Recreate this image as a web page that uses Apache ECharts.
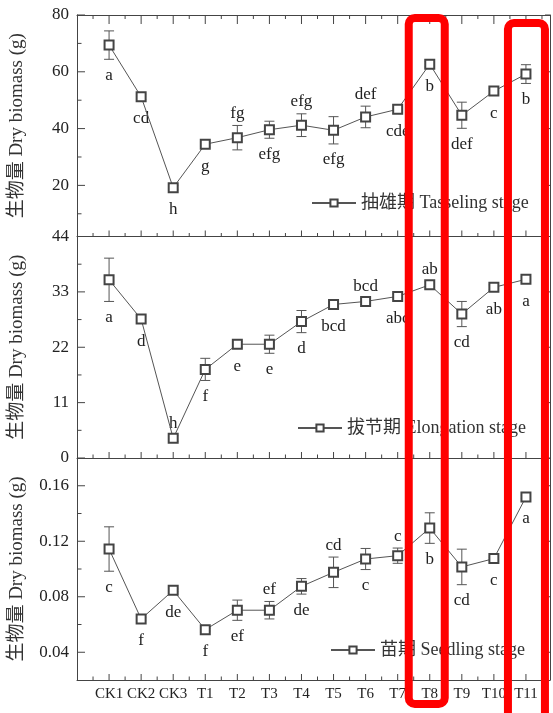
<!DOCTYPE html>
<html><head><meta charset="utf-8">
<script src="https://cdn.jsdelivr.net/npm/echarts@6/dist/echarts.min.js"></script>
<style>html,body{margin:0;padding:0;background:#fff}#c{width:553px;height:713px}</style>
</head><body><div id="c"></div>
<script>
// ---------- data ----------
const categories = ['CK1','CK2','CK3','T1','T2','T3','T4','T5','T6','T7','T8','T9','T10','T11'];

const tasselingMean = [69.4,51.2,19.2,34.5,36.8,39.6,41.2,39.4,44.1,46.8,62.7,44.7,53.2,59.2];
const tasselingErr  = [5.0,1.0,0.8,1.0,4.3,3.0,4.0,4.8,3.8,1.5,1.0,4.6,1.0,3.3];
const tasselingLetters = ['a','cd','h','g','fg','efg','efg','efg','def','cde','b','def','c','b'];
const tasselingSide = ['b','b','b','b','t','b','t','b','t','b','b','b','b','b'];
const tasselingRange = [2, 80];
const tasselingTicks = [20,40,60,80];
const tasselingMinor = [10,30,50,70];
const tasselingTickLabels = ['20','40','60','80'];

const elongationMean = [35.4,27.6,3.9,17.6,22.6,22.6,27.1,30.5,31.1,32.1,34.4,28.6,33.9,35.5];
const elongationErr  = [4.3,0.6,0.6,2.2,0.6,1.8,2.2,0.5,0.6,0.5,0.6,2.5,0.5,0.6];
const elongationLetters = ['a','d','h','f','e','e','d','bcd','bcd','abc','ab','cd','ab','a'];
const elongationSide = ['b','b','t','b','b','b','b','b','t','b','t','b','b','b'];
const elongationRange = [0, 44];
const elongationTicks = [0,11,22,33,44];
const elongationMinor = [5.5,16.5,27.5,38.5];
const elongationTickLabels = ['0','11','22','33','44'];

const seedlingMean = [0.1144,0.064,0.0846,0.0563,0.0703,0.0703,0.0875,0.0976,0.1072,0.1096,0.1295,0.1015,0.1075,0.1519];
const seedlingErr  = [0.016,0.001,0.001,0.001,0.0073,0.0063,0.0056,0.011,0.0076,0.0055,0.011,0.0128,0.001,0.001];
const seedlingLetters = ['c','f','de','f','ef','ef','de','cd','c','c','b','cd','c','a'];
const seedlingSide = ['b','b','b','b','b','t','b','t','b','t','b','b','b','b'];
const seedlingRange = [0.02, 0.18];
const seedlingTicks = [0.04,0.08,0.12,0.16];
const seedlingMinor = [0.06,0.10,0.14];
const seedlingTickLabels = ['0.04','0.08','0.12','0.16'];

const seriesNames = ['抽雄期 Tasseling stage','拔节期 Elongation stage','苗期 Seedling stage'];
const yTitle = '生物量 Dry biomass (g)';

// ---------- styling ----------
const FONT = "'Liberation Serif','Noto Sans CJK SC',serif";
const AXIS = '#444';
const TICK = '#444';
const TEXT = '#222';
const LINE = '#555';

const panels = [
  {name:seriesNames[0], mean:tasselingMean, err:tasselingErr, letters:tasselingLetters, side:tasselingSide,
   range:tasselingRange, ticks:tasselingTicks, minor:tasselingMinor, labels:tasselingTickLabels,
   box:{top:15,height:221.5}, legend:{left:311, top:194}, topAxis:true, xLabels:false},
  {name:seriesNames[1], mean:elongationMean, err:elongationErr, letters:elongationLetters, side:elongationSide,
   range:elongationRange, ticks:elongationTicks, minor:elongationMinor, labels:elongationTickLabels,
   box:{top:236.5,height:221.5}, legend:{left:297, top:419}, topAxis:false, xLabels:false},
  {name:seriesNames[2], mean:seedlingMean, err:seedlingErr, letters:seedlingLetters, side:seedlingSide,
   range:seedlingRange, ticks:seedlingTicks, minor:seedlingMinor, labels:seedlingTickLabels,
   box:{top:458,height:222}, legend:{left:330, top:641}, topAxis:false, xLabels:true}
];

const X_MIN = -1, X_MAX = 13.75;
const catIdx = categories.map((c,i)=>i);
const halfIdx = [-0.5].concat(categories.map((c,i)=>i+0.5));
const grid = [], xAxis = [], yAxis = [], series = [], legend = [];

panels.forEach((p, g) => {
  grid.push({left:77, right:3, top:p.box.top, height:p.box.height});
  xAxis.push({gridIndex:g, type:'value', min:X_MIN, max:X_MAX, interval:1, position:'bottom',
    axisLine:{show:true, onZero:false, lineStyle:{color:AXIS, width:1}},
    axisTick:{show:false},
    axisLabel:{show:p.xLabels, formatter:v=>{const r=Math.round(v); return Math.abs(r-v)<1e-6 ? (categories[r]||'') : '';},
      fontFamily:FONT, fontSize:15, color:TEXT, margin:7},
    splitLine:{show:false}});
  const xMain = xAxis.length-1;
  if (p.topAxis) {
    xAxis.push({gridIndex:g, type:'value', min:X_MIN, max:X_MAX, position:'top',
      axisLine:{show:true, onZero:false, lineStyle:{color:AXIS, width:1}},
      axisTick:{show:false}, axisLabel:{show:false}, splitLine:{show:false}});
  }
  yAxis.push({gridIndex:g, type:'value', min:p.range[0], max:p.range[1], position:'left',
    axisLine:{show:true, onZero:false, lineStyle:{color:AXIS, width:1}},
    axisTick:{show:false},
    axisLabel:{show:true, customValues:p.ticks,
      formatter:v=>{const k=p.ticks.findIndex(t=>Math.abs(t-v)<1e-9); return k>=0?p.labels[k]:'';},
      fontFamily:FONT, fontSize:17, color:TEXT, margin:8},
    splitLine:{show:false},
    name:yTitle, nameLocation:'middle', nameGap:50,
    nameTextStyle:{fontFamily:FONT, fontSize:19, color:'#333'}});
  const yMain = yAxis.length-1;
  yAxis.push({gridIndex:g, type:'value', min:p.range[0], max:p.range[1], position:'right',
    axisLine:{show:true, onZero:false, lineStyle:{color:AXIS, width:1}},
    axisTick:{show:false}, axisLabel:{show:false}, splitLine:{show:false}});

  // inward tick marks placed through the axes' scales
  series.push({type:'custom', xAxisIndex:xMain, yAxisIndex:yMain, z:2, clip:false, silent:true,
    data:[[0, p.ticks[0]]],
    renderItem:(params, api)=>{
      const cs = params.coordSys;
      const L = cs.x, R = cs.x + cs.width, T = cs.y, B = cs.y + cs.height;
      const st = {stroke:TICK, lineWidth:1};
      const ch = [];
      const ln = (x1,y1,x2,y2)=>ch.push({type:'line', shape:{x1,y1,x2,y2}, style:st});
      catIdx.forEach(i=>{ const x = api.coord([i, p.range[0]])[0]; ln(x,B,x,B-6); if (p.topAxis) ln(x,T,x,T+9); });
      halfIdx.forEach(i=>{ const x = api.coord([i, p.range[0]])[0]; ln(x,B,x,B-3.5); if (p.topAxis) ln(x,T,x,T+4); });
      p.ticks.forEach(v=>{ const y = api.coord([X_MIN, v])[1]; ln(L,y,L+8,y); ln(R,y,R-5,y); });
      p.minor.forEach(v=>{ const y = api.coord([X_MIN, v])[1]; ln(L,y,L+4.5,y); });
      return {type:'group', children:ch};
    }});

  series.push({type:'custom', xAxisIndex:xMain, yAxisIndex:yMain, z:1, clip:false, silent:true,
    data:p.mean.map((v,i)=>[i, v, p.err[i]]),
    renderItem:(params, api)=>{
      const i = params.dataIndex, m = p.mean[i], e = p.err[i];
      const c = api.coord([i, m]);
      const t = api.coord([i, m+e]);
      const b = api.coord([i, m-e]);
      const hw = 5;
      const st = {stroke:LINE, lineWidth:1};
      const ch = [
        {type:'line', shape:{x1:c[0], y1:t[1], x2:c[0], y2:b[1]}, style:st},
        {type:'line', shape:{x1:c[0]-hw, y1:t[1], x2:c[0]+hw, y2:t[1]}, style:st},
        {type:'line', shape:{x1:c[0]-hw, y1:b[1], x2:c[0]+hw, y2:b[1]}, style:st}
      ];
      const ly = p.side[i]==='t' ? Math.min(c[1]-15, t[1]-12) : Math.max(c[1]+22, b[1]+16);
      ch.push({type:'text', style:{text:p.letters[i], x:c[0], y:ly, align:'center', verticalAlign:'middle',
        fontFamily:FONT, fontSize:17, fill:TEXT}});
      return {type:'group', children:ch};
    }});
  series.push({type:'line', name:p.name, xAxisIndex:xMain, yAxisIndex:yMain, z:3,
    data:p.mean.map((v,i)=>[i, v]),
    symbol:'emptyRect', symbolSize:9,
    lineStyle:{color:LINE, width:1},
    itemStyle:{color:'#444', borderWidth:1},
    emphasis:{disabled:true}, animation:false});
  legend.push({data:[p.name], left:p.legend.left, top:p.legend.top, padding:0,
    itemWidth:44, itemHeight:9, selectedMode:false,
    textStyle:{fontFamily:FONT, fontSize:18, color:'#333'}});
});

const chart = echarts.init(document.getElementById('c'), null, {renderer:'canvas'});
chart.setOption({animation:false, backgroundColor:'#fff', grid, xAxis, yAxis, series, legend});

// red highlight boxes around T8 and T11
const x8 = chart.convertToPixel({xAxisIndex:0}, categories.indexOf('T8'));
const x11 = chart.convertToPixel({xAxisIndex:0}, categories.indexOf('T11'));
chart.setOption({graphic:[
  {type:'rect', shape:{x:x8-21, y:18, width:36, height:686, r:6}, style:{fill:null, stroke:'#ff0000', lineWidth:8}, z:100},
  {type:'rect', shape:{x:x11-18, y:23, width:37, height:700, r:6}, style:{fill:null, stroke:'#ff0000', lineWidth:8}, z:100}
]});
</script></body></html>
